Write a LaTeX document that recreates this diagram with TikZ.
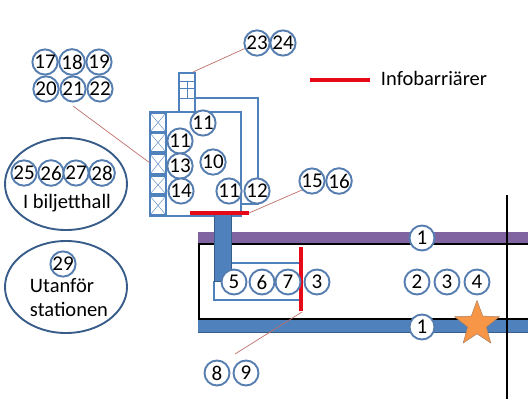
\documentclass[tikz,border=0pt]{standalone}
\usepackage{fontspec}
\setmainfont{Carlito}
\usepackage{xcolor}
\usetikzlibrary{shapes.geometric}
\definecolor{planblue}{RGB}{79,129,189}
\definecolor{ringblue}{RGB}{85,125,175}
\definecolor{darkblue}{RGB}{56,93,138}
\definecolor{planpurple}{RGB}{128,100,162}
\definecolor{starorange}{RGB}{247,150,70}
\definecolor{leaderred}{RGB}{190,110,105}
\definecolor{barrierred}{RGB}{230,10,25}
\tikzset{
    numring/.style={circle, draw=ringblue, line width=1.9pt, fill=white, minimum size=25pt, inner sep=0pt, font=\fontsize{21}{21}\selectfont},
    wall/.style={draw=planblue, line width=2pt},
    thinwall/.style={draw=planblue, line width=1.4pt},
    barrier/.style={draw=barrierred, line width=3.3pt},
    leader/.style={draw=leaderred, line width=0.7pt},
    track/.style={draw=black, line width=2.8pt},
    zone/.style={ellipse, draw=darkblue, line width=1.9pt, minimum width=122pt, minimum height=92pt, inner sep=0pt},
    plainlabel/.style={font=\fontsize{20.5}{20.5}\selectfont, inner sep=0pt}
}
\begin{document}
\begin{tikzpicture}[x=1pt,y=-1pt]
    \useasboundingbox (0,0) rectangle (528,416);

    % Platform bands
    \fill[planpurple] (198,232) rectangle (528,244);
    \fill[planblue] (198,319) rectangle (528,332);
    \draw[darkblue, line width=0.6pt] (198,332) -- (528,332);
    \draw[track] (528,244) -- (199,244) -- (199,319) -- (528,319);
    \draw[track] (507,195) -- (507,399);

    % Ticket hall
    \draw[wall] (241,112) -- (150,112) -- (150,216) -- (241,216) -- cycle;
    \draw[wall] (166,112) -- (166,216);
    \foreach \ya/\yb in {113/132, 133/152, 154/174, 176/194, 196/215} {
        \draw[wall] (150,\ya) rectangle (166,\yb);
        \draw[thinwall, line width=0.4pt] (150,\ya) -- (166,\yb);
        \draw[thinwall, line width=0.4pt] (166,\ya) -- (150,\yb);
    }
    \draw[wall] (179,112) -- (179,73) -- (195,73) -- (195,112);
    \foreach \y in {81, 88, 98} {
        \draw[thinwall, line width=0.8pt] (179,\y) -- (195,\y);
    }
    \draw[thinwall, line width=0.8pt] (187,81) -- (187,98);
    \draw[wall] (195,98) -- (258,98) -- (258,204) -- (241,204);

    % Stairs down to platform
    \draw[thinwall] (231,263) -- (301,263);
    \draw[thinwall] (214,281) -- (214,300) -- (301,300);
    \fill[planblue, draw=darkblue, line width=0.5pt] (214,211) rectangle (231,281);

    % Barriers
    \draw[barrier] (190,213) -- (249,213);
    \draw[barrier] (301,247) -- (301,311);
    \draw[barrier] (310,80) -- (370,80);
    \node[plainlabel] (barrierlabel) at (434,78) {Infobarriärer};

    % Star
    \node[star, star points=5, star point ratio=2.4, draw=darkblue!40!starorange, fill=starorange, line width=0.5pt, minimum size=47pt, inner sep=0pt] (marker) at (477,324) {};

    % Zones
    \node[zone] (hallzone) at (66,184) {};
    \node[zone] (outzone) at (66,287) {};
    \node[plainlabel] (halllabel) at (67,203) {I biljetthall};
    \node[plainlabel] (outlabela) at (62,286) {Utanför};
    \node[plainlabel] (outlabelb) at (69,309) {stationen};

    % Numbered rings
    \foreach \n/\x/\y/\t in {
        a/257/43/23, b/283/43/24,
        c/203/123/11, d/180/141/11, e/180/166/13, f/181/191/14, g/213/162/10,
        h/229/191/11, i/257/191/12, j/312/181/15, k/339/181/16,
        l/422/238/1, m/417/282/2, o/447/282/3, p/477/282/4,
        q/234/282/5, r/262/282/6, s/288/282/7, t/317/282/3,
        u/422/327/1, v/217/373/8, w/246/373/9,
        aa/45/62/17, ab/72/62/18, ac/99/62/19,
        ad/46/89/20, ae/73/89/21, af/100/89/22,
        ag/24/173/25, ah/51/173/26, ai/76/173/27, aj/102/173/28,
        ak/63/264/29} {
        \node[numring] (ring\n) at (\x,\y) {\t};
    }

    % Leader lines
    \coordinate (towertop) at (193,72);
    \coordinate (gatestart) at (249,213);
    \coordinate (lockerleft) at (150,163);
    \coordinate (platformgate) at (302,312);
    \coordinate (groupend) at (73,106);
    \coordinate (gateend) at (302,190);
    \coordinate (lowerend) at (235,354);
    \draw[leader] (ringa) -- (towertop);
    \draw[leader] (gateend) -- (gatestart);
    \draw[leader] (groupend) -- (lockerleft);
    \draw[leader] (platformgate) -- (lowerend);
\end{tikzpicture}
\end{document}
